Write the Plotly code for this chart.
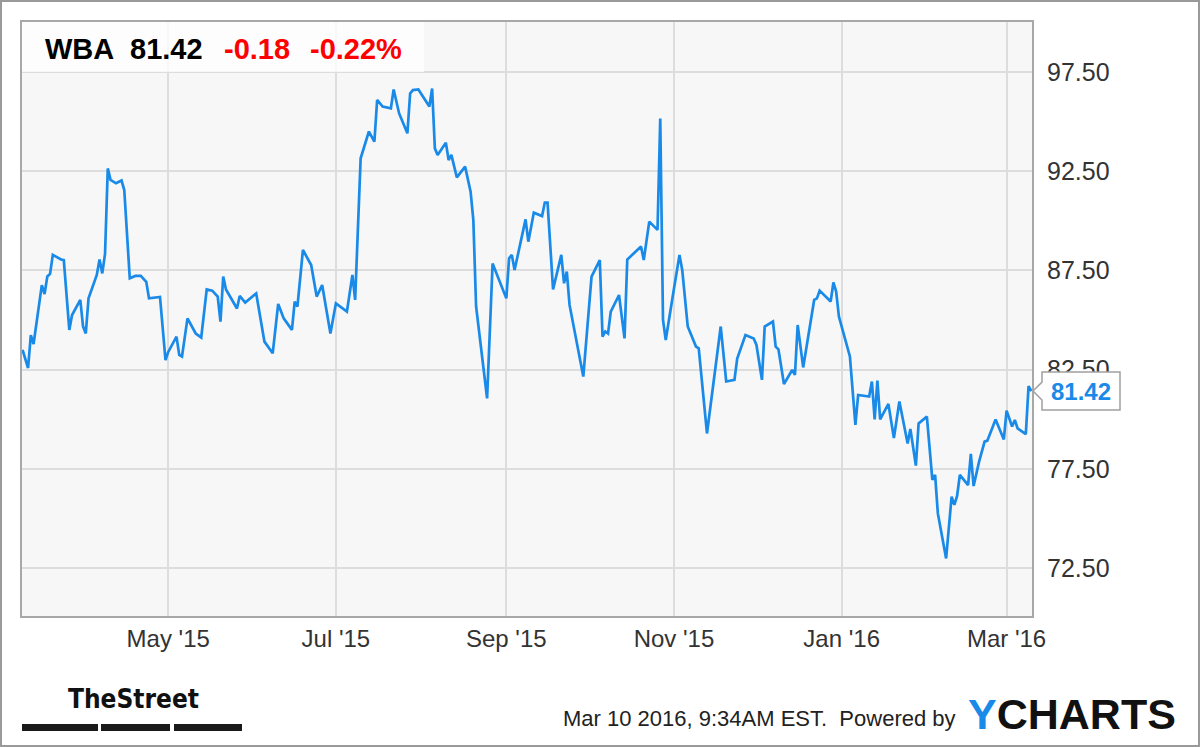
import plotly.graph_objects as go

# ---------------- data ----------------
dates = [
    "2015-03-09", "2015-03-11", "2015-03-12", "2015-03-13", "2015-03-16", "2015-03-17", "2015-03-18",
    "2015-03-19", "2015-03-20", "2015-03-23", "2015-03-24", "2015-03-26", "2015-03-27", "2015-03-30",
    "2015-03-31", "2015-04-01", "2015-04-02", "2015-04-05", "2015-04-06", "2015-04-07", "2015-04-08",
    "2015-04-09", "2015-04-10", "2015-04-12", "2015-04-14", "2015-04-15", "2015-04-17", "2015-04-19",
    "2015-04-21", "2015-04-23", "2015-04-24", "2015-04-28", "2015-04-30", "2015-05-01", "2015-05-04",
    "2015-05-05", "2015-05-06", "2015-05-08", "2015-05-11", "2015-05-13", "2015-05-15", "2015-05-17",
    "2015-05-19", "2015-05-20", "2015-05-21", "2015-05-22", "2015-05-26", "2015-05-27", "2015-05-29",
    "2015-06-02", "2015-06-05", "2015-06-08", "2015-06-10", "2015-06-12", "2015-06-15", "2015-06-16",
    "2015-06-17", "2015-06-19", "2015-06-22", "2015-06-24", "2015-06-26", "2015-06-29", "2015-07-01",
    "2015-07-05", "2015-07-07", "2015-07-08", "2015-07-10", "2015-07-13", "2015-07-15", "2015-07-16",
    "2015-07-18", "2015-07-21", "2015-07-22", "2015-07-24", "2015-07-27", "2015-07-28", "2015-07-29",
    "2015-07-31", "2015-08-04", "2015-08-05", "2015-08-06", "2015-08-07", "2015-08-10", "2015-08-11",
    "2015-08-12", "2015-08-14", "2015-08-17", "2015-08-19", "2015-08-20", "2015-08-21", "2015-08-25",
    "2015-08-27", "2015-09-01", "2015-09-02", "2015-09-03", "2015-09-04", "2015-09-08", "2015-09-09",
    "2015-09-11", "2015-09-14", "2015-09-15", "2015-09-16", "2015-09-18", "2015-09-21", "2015-09-22",
    "2015-09-23", "2015-09-24", "2015-09-29", "2015-10-02", "2015-10-05", "2015-10-06", "2015-10-07",
    "2015-10-08", "2015-10-09", "2015-10-12", "2015-10-14", "2015-10-15", "2015-10-20", "2015-10-21",
    "2015-10-23", "2015-10-26", "2015-10-27", "2015-10-28", "2015-10-29", "2015-11-01", "2015-11-03",
    "2015-11-04", "2015-11-06", "2015-11-09", "2015-11-10", "2015-11-13", "2015-11-18", "2015-11-20",
    "2015-11-23", "2015-11-24", "2015-11-27", "2015-11-30", "2015-12-01", "2015-12-03", "2015-12-04",
    "2015-12-07", "2015-12-08", "2015-12-09", "2015-12-11", "2015-12-14", "2015-12-15", "2015-12-16",
    "2015-12-18", "2015-12-22", "2015-12-23", "2015-12-24", "2015-12-28", "2015-12-29", "2015-12-30",
    "2015-12-31", "2016-01-04", "2016-01-06", "2016-01-07", "2016-01-11", "2016-01-12", "2016-01-13",
    "2016-01-14", "2016-01-15", "2016-01-18", "2016-01-20", "2016-01-22", "2016-01-25", "2016-01-26",
    "2016-01-28", "2016-01-29", "2016-02-01", "2016-02-03", "2016-02-04", "2016-02-05", "2016-02-08",
    "2016-02-10", "2016-02-11", "2016-02-12", "2016-02-13", "2016-02-16", "2016-02-17", "2016-02-18",
    "2016-02-20", "2016-02-22", "2016-02-23", "2016-02-26", "2016-02-29", "2016-03-01", "2016-03-03",
    "2016-03-04", "2016-03-05", "2016-03-08", "2016-03-09", "2016-03-10",
]
prices = [
    83.49, 82.58, 84.24, 83.79, 86.76, 86.31, 87.19,
    87.32, 88.28, 88.05, 88.02, 84.50, 85.25, 86.01,
    84.67, 84.32, 86.09, 87.27, 88.05, 87.35, 88.33,
    92.64, 92.06, 91.89, 92.03, 91.55, 87.10, 87.22,
    87.22, 86.92, 86.09, 86.16, 82.98, 83.39, 84.16,
    83.24, 83.16, 85.08, 84.32, 84.12, 86.54, 86.48,
    86.18, 84.92, 87.19, 86.54, 85.58, 86.21, 85.88,
    86.34, 83.91, 83.32, 85.81, 85.08, 84.50, 85.93,
    85.68, 88.53, 87.77, 86.18, 86.76, 84.32, 85.84,
    85.42, 87.27, 86.01, 93.15, 94.50, 93.99, 96.09,
    95.76, 95.67, 96.62, 95.41, 94.41, 96.42, 96.59,
    96.62, 95.76, 96.67, 93.65, 93.32, 93.94, 93.06,
    93.32, 92.19, 92.73, 91.47, 90.04, 85.68, 81.05,
    87.85, 86.09, 88.11, 88.28, 87.52, 90.07, 88.95,
    90.41, 90.24, 90.92, 90.92, 86.54, 88.28, 86.85,
    87.44, 85.76, 82.15, 87.19, 88.02, 84.16, 84.42,
    84.32, 85.42, 86.26, 84.07, 88.05, 88.70, 88.02,
    89.96, 89.54, 95.16, 85.00, 83.99, 86.59, 88.28,
    87.52, 84.67, 83.66, 83.57, 79.28, 84.67, 81.90,
    81.98, 83.06, 84.24, 84.07, 83.74, 81.98, 84.67,
    84.92, 83.66, 83.52, 81.77, 82.48, 82.23, 84.75,
    82.61, 86.01, 86.09, 86.48, 85.93, 86.89, 86.43,
    85.17, 83.16, 79.71, 81.22, 81.14, 81.90, 79.99,
    81.95, 79.99, 80.77, 79.05, 80.89, 78.78, 79.51,
    77.66, 79.79, 80.13, 76.94, 77.19, 75.25, 72.98,
    76.10, 75.68, 76.13, 77.19, 76.68, 78.25, 76.63,
    77.86, 78.87, 78.92, 79.99, 78.98, 80.43, 79.63,
    79.96, 79.54, 79.25, 81.67, 81.42,
]

ticker = "WBA"
last_price = "81.42"
change = "-0.18"
change_pct = "-0.22%"

x_tick_vals = ["2015-05-01", "2015-07-01", "2015-09-01", "2015-11-01", "2016-01-01", "2016-03-01"]
x_tick_text = ["May '15", "Jul '15", "Sep '15", "Nov '15", "Jan '16", "Mar '16"]
y_tick_vals = [72.5, 77.5, 82.5, 87.5, 92.5, 97.5]
y_tick_text = ["72.50", "77.50", "82.50", "87.50", "92.50", "97.50"]

footer_text = "Mar 10 2016, 9:34AM EST.  Powered by"

# ---------------- layout helpers (pixel -> paper) ----------------
W, H = 1200, 747
PL, PR, PT, PB = 22, 1032, 22, 616


def pxx(x):
    return (x - PL) / (PR - PL)


def pxy(y):
    return (PB - y) / (PB - PT)


BLUE = "#1a8ae8"
FONT = "Liberation Sans, Arial, Helvetica, sans-serif"

fig = go.Figure()
fig.add_trace(go.Scatter(
    x=dates, y=prices, mode="lines",
    line=dict(color=BLUE, width=2.7),
    hoverinfo="x+y", showlegend=False,
))

last_v = prices[-1]

shapes = [
    # header box
    dict(type="rect", xref="paper", yref="paper", x0=0, x1=pxx(424), y0=pxy(72), y1=1,
         fillcolor="rgba(255,255,255,0.75)", line=dict(width=0), layer="above"),
    # value callout
    dict(type="path", xref="paper", yref="y",
         path=(f"M {pxx(1033)},{last_v} L {pxx(1042)},{last_v + 0.45} L {pxx(1042)},{last_v + 0.96} "
               f"L {pxx(1120)},{last_v + 0.96} L {pxx(1120)},{last_v - 0.96} L {pxx(1042)},{last_v - 0.96} "
               f"L {pxx(1042)},{last_v - 0.45} Z"),
         fillcolor="white", line=dict(color="#a0a0a0", width=1.5), layer="above"),
    # outer border
    dict(type="rect", xref="paper", yref="paper", x0=pxx(1), x1=pxx(1199), y0=pxy(746), y1=pxy(1),
         line=dict(color="#9a9a9a", width=2), fillcolor="rgba(0,0,0,0)", layer="above"),
]
# TheStreet bars
for x0, x1 in [(22, 98), (101, 170), (174, 242)]:
    shapes.append(dict(type="rect", xref="paper", yref="paper", x0=pxx(x0), x1=pxx(x1),
                       y0=pxy(731), y1=pxy(724), fillcolor="#1a1a1a", line=dict(width=0)))

annotations = [
    dict(text=f"<b>{ticker}</b>", x=pxx(43), y=pxy(49), xref="paper", yref="paper",
         xanchor="left", yanchor="middle", showarrow=False, font=dict(size=29, color="#000", family=FONT)),
    dict(text=f"<b>{last_price}</b>", x=pxx(128), y=pxy(49), xref="paper", yref="paper",
         xanchor="left", yanchor="middle", showarrow=False, font=dict(size=29, color="#000", family=FONT)),
    dict(text=f"<b>{change}</b>", x=pxx(222), y=pxy(49), xref="paper", yref="paper",
         xanchor="left", yanchor="middle", showarrow=False, font=dict(size=29, color="#ff0000", family=FONT)),
    dict(text=f"<b>{change_pct}</b>", x=pxx(308), y=pxy(49), xref="paper", yref="paper",
         xanchor="left", yanchor="middle", showarrow=False, font=dict(size=29, color="#ff0000", family=FONT)),
    # callout text
    dict(text=f"<b>{last_price}</b>", x=pxx(1081), y=last_v, xref="paper", yref="y",
         xanchor="center", yanchor="middle", showarrow=False, font=dict(size=24, color=BLUE, family=FONT)),
    # footer
    dict(text="<b>TheStreet</b>", x=pxx(133), y=pxy(699), xref="paper", yref="paper",
         xanchor="center", yanchor="middle", showarrow=False,
         font=dict(size=26, color="#111", family="Liberation Sans Narrow, DejaVu Sans Condensed, Arial Narrow, sans-serif")),
    dict(text=footer_text, x=pxx(958), y=pxy(718), xref="paper", yref="paper",
         xanchor="right", yanchor="middle", showarrow=False, font=dict(size=22, color="#222", family=FONT)),
    dict(text=f"<b><span style='color:{BLUE}'>Y</span>CHARTS</b>", x=pxx(966), y=pxy(714),
         xref="paper", yref="paper", xanchor="left", yanchor="middle", showarrow=False,
         font=dict(size=43, color="#111", family=FONT)),
]

fig.update_layout(
    width=W, height=H,
    margin=dict(l=PL, r=W - PR, t=PT, b=H - PB, pad=0),
    paper_bgcolor="white", plot_bgcolor="#f7f7f7",
    font=dict(family=FONT, color="#333"),
    shapes=shapes, annotations=annotations,
    hovermode="closest",
    xaxis=dict(
        type="date", range=["2015-03-08 19:00", "2016-03-10 06:00"],
        tickvals=x_tick_vals, ticktext=x_tick_text, tickfont=dict(size=24, color="#333"),
        showgrid=True, gridcolor="#dddddd", gridwidth=2,
        showline=True, linecolor="#a8a8a8", linewidth=2, mirror=True,
        ticks="", zeroline=False, fixedrange=True,
    ),
    yaxis=dict(
        side="right", range=[70.08, 100.02],
        tickvals=y_tick_vals, ticktext=y_tick_text, tickfont=dict(size=25, color="#333"),
        showgrid=True, gridcolor="#dddddd", gridwidth=2,
        showline=True, linecolor="#a8a8a8", linewidth=2, mirror=True,
        ticks="", zeroline=False, ticklabelstandoff=8, fixedrange=True,
    ),
)

fig.write_html(
    "out.html",
    config={"displayModeBar": False},
    post_script="document.body.style.margin='0px';document.body.style.padding='0px';",
)
